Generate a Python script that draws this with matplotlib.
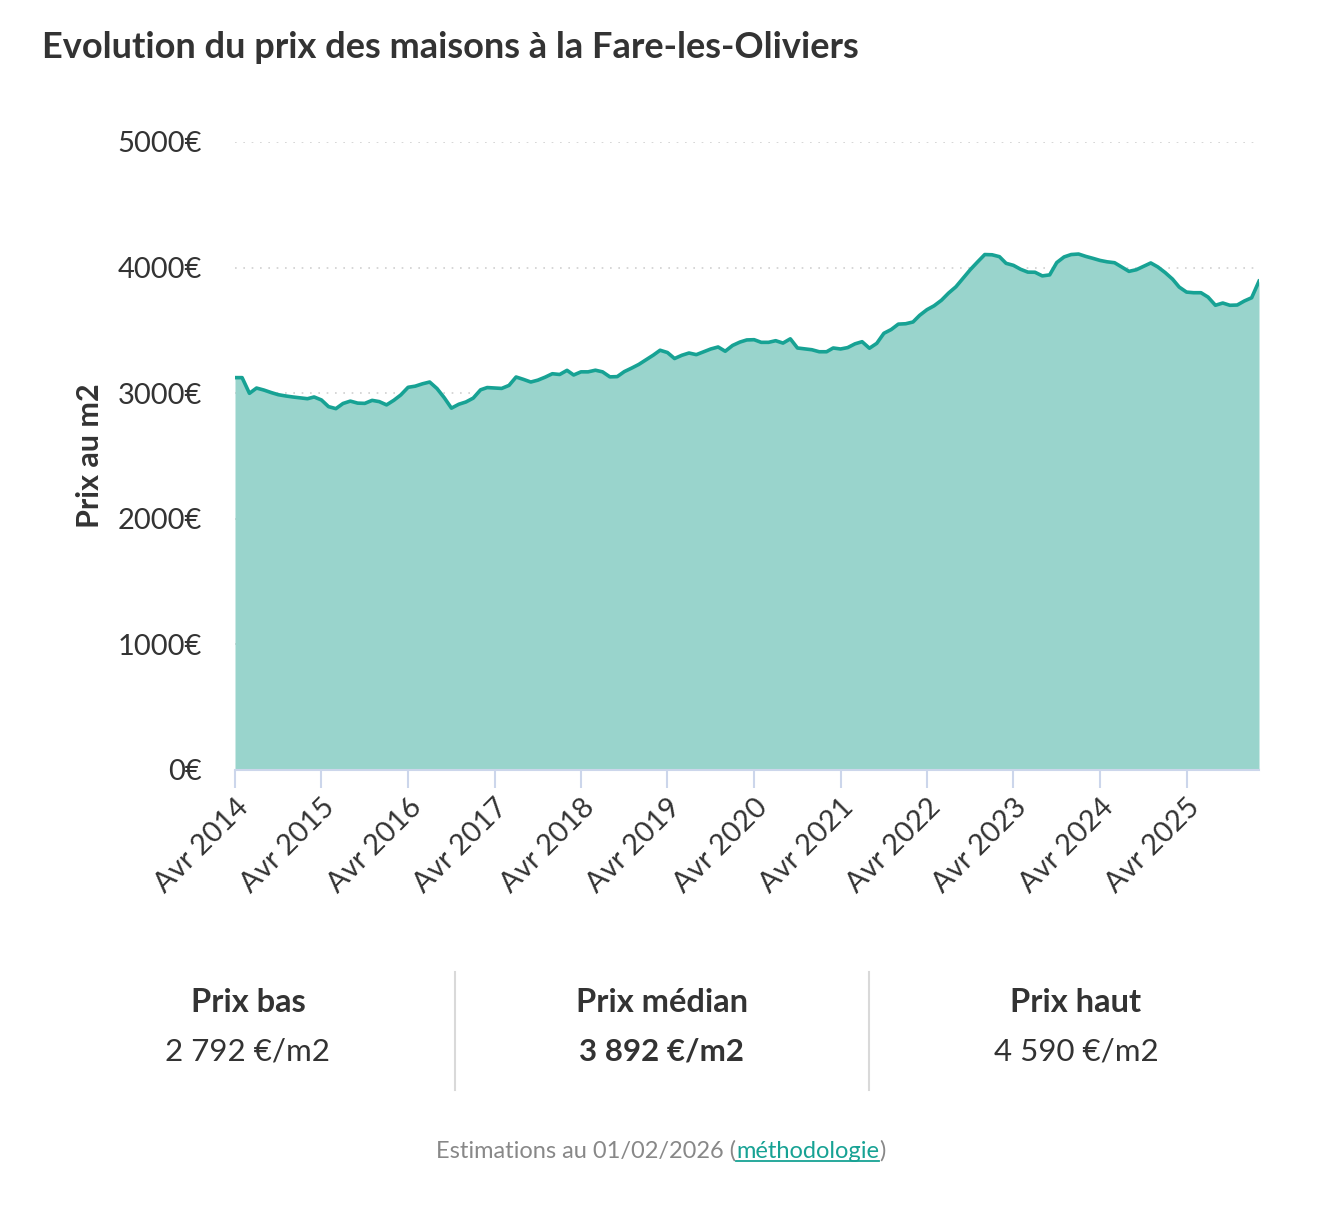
import numpy as np
import pandas as pd
import matplotlib
matplotlib.use("Agg")
import matplotlib.pyplot as plt
import matplotlib.dates as mdates

plt.rcParams["font.family"] = ["Lato", "DejaVu Sans"]

# prix au m2, un point par mois depuis avril 2014
prix = [
    3124, 3124, 2999, 3041, 3025, 3005, 2988, 2978, 2970, 2963, 2956, 2970,
    2946, 2893, 2877, 2918, 2937, 2921, 2919, 2943, 2933, 2907, 2944, 2986,
    3047, 3056, 3075, 3089, 3037, 2963, 2881, 2912, 2930, 2961, 3027, 3045,
    3041, 3038, 3062, 3129, 3110, 3089, 3104, 3128, 3155, 3149, 3182, 3145,
    3170, 3170, 3183, 3170, 3130, 3132, 3172, 3200, 3229, 3267, 3304, 3342,
    3324, 3276, 3302, 3320, 3307, 3330, 3352, 3368, 3334, 3380, 3407, 3424,
    3426, 3405, 3405, 3418, 3399, 3433, 3360, 3353, 3346, 3330, 3330, 3360,
    3352, 3363, 3393, 3410, 3358, 3397, 3477, 3507, 3550, 3553, 3567, 3620,
    3665, 3696, 3740, 3797, 3847, 3917, 3984, 4046, 4104, 4102, 4087, 4034,
    4018, 3987, 3964, 3963, 3934, 3942, 4040, 4085, 4104, 4108, 4089, 4074,
    4057, 4046, 4039, 4005, 3970, 3983, 4010, 4037, 4005, 3960, 3908, 3845,
    3805, 3800, 3800, 3765, 3700, 3718, 3700, 3702, 3734, 3760, 3892,
]
dates = pd.date_range("2014-04-01", periods=len(prix), freq="MS")

tick_dates = pd.date_range("2014-04-01", "2025-04-01", freq="12MS")
tick_labels = ["Avr %d" % d.year for d in tick_dates]
y_ticks = [0, 1000, 2000, 3000, 4000, 5000]

stat_titles = ["Prix bas", "Prix médian", "Prix haut"]
stat_values = ["2 792 €/m2", "3 892 €/m2", "4 590 €/m2"]

line_color = "#17a294"
fill_color = "#99d4cc"
text_color = "#333333"
axis_color = "#ccd6eb"

fig = plt.figure(figsize=(13.2, 12.06), dpi=100)
ax = fig.add_axes([235 / 1320, 1 - 770 / 1206, 1024 / 1320, 628 / 1206])

ax.fill_between(dates, prix, 0, color=fill_color, linewidth=0)
ax.plot(dates, prix, color=line_color, linewidth=2.6, solid_joinstyle="round")

ax.set_xlim(dates[0], dates[-1])
ax.set_ylim(0, 5000)
ax.set_yticks(y_ticks)
ax.set_yticklabels(["%d€" % v for v in y_ticks])
ax.set_xticks(tick_dates)
ax.set_xticklabels(tick_labels, rotation=45, ha="right", rotation_mode="anchor")

for s in ["top", "right", "left"]:
    ax.spines[s].set_visible(False)
ax.spines["bottom"].set_color(axis_color)
ax.spines["bottom"].set_linewidth(1.5)
ax.spines["bottom"].set_zorder(5)

ax.tick_params(axis="y", length=0, pad=24, labelsize=21, labelcolor=text_color)
ax.tick_params(axis="x", length=13, width=1.5, color=axis_color, pad=4,
               labelsize=21, labelcolor=text_color)

for v in y_ticks[1:]:
    ax.axhline(v, color="#d0d0d0", linewidth=1.2, linestyle=(0, (1, 4)), zorder=0)

ax.set_ylabel("Prix au m2", fontsize=22, fontweight="bold", color=text_color)
ax.yaxis.set_label_coords(-0.128, 0.5)

fig.text(42 / 1320, 1 - 48 / 1206, "Evolution du prix des maisons à la Fare-les-Oliviers",
         fontsize=26, fontweight="bold", color=text_color, va="center", ha="left")

# bloc des prix
centers = [248, 662, 1076]
for i, cx in enumerate(centers):
    fig.text(cx / 1320, 1 - 1003 / 1206, stat_titles[i], fontsize=23.5, fontweight="bold",
             color=text_color, ha="center", va="center")
    fig.text(cx / 1320, 1 - 1052 / 1206, stat_values[i], fontsize=22.5,
             fontweight="bold" if i == 1 else "normal",
             color=text_color, ha="center", va="center")
for dx in [455, 869]:
    fig.add_artist(plt.Line2D([dx / 1320, dx / 1320], [1 - 972 / 1206, 1 - 1090 / 1206],
                              color="#d9d9d9", linewidth=1.5))

# pied de page
renderer = fig.canvas.get_renderer()
parts = [("Estimations au 01/02/2026 (", "#888888"), ("méthodologie", line_color), (")", "#888888")]
texts = []
for s, c in parts:
    texts.append(fig.text(0, 1 - 1151 / 1206, s, fontsize=17, color=c, va="center", ha="left"))
widths = [t.get_window_extent(renderer).width for t in texts]
x = 661 - sum(widths) / 2
for t, w in zip(texts, widths):
    t.set_x(x / 1320)
    x += w
bb = texts[1].get_window_extent(renderer)
fig.add_artist(plt.Line2D([bb.x0 / 1320, bb.x1 / 1320], [(bb.y0 + 1) / 1206] * 2,
                          color=line_color, linewidth=1.3))

fig.savefig("out.png", dpi=100)
